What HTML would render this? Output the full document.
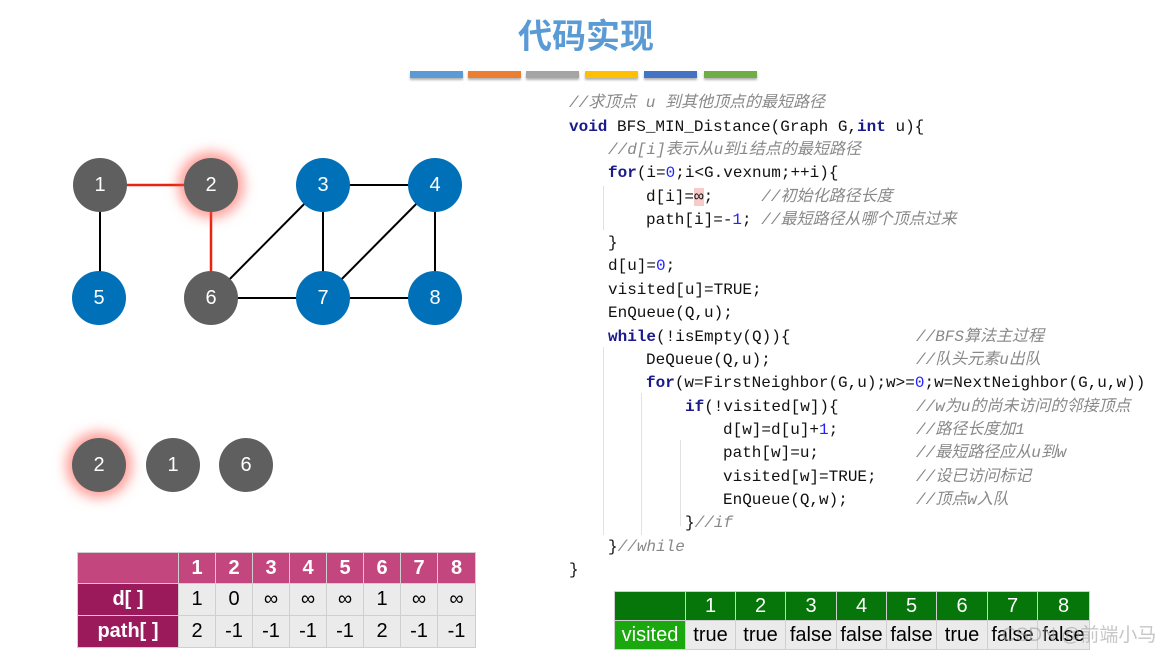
<!DOCTYPE html>
<html><head><meta charset="utf-8"><style>
body{margin:0;width:1172px;height:651px;background:#fff;position:relative;overflow:hidden;font-family:"Liberation Sans","Noto Sans CJK SC",sans-serif}
.t{position:absolute;left:0;width:1172px;top:9px;text-align:center;font-size:34px;font-weight:bold;color:#5b9bd5;font-family:"Noto Sans CJK SC",sans-serif}
.bar{position:absolute;top:71px;height:7px;width:53px;box-shadow:0 2px 2px rgba(0,0,0,.3)}
.n{position:absolute;width:54px;height:54px;border-radius:50%;color:#fff;font-size:20px;text-align:center;line-height:54px}
.g{background:#5f5f5f}.b{background:#0071b9}
.glow{box-shadow:0 0 12px 6px rgba(255,80,70,.55)}
.c{position:absolute;font-family:"Liberation Mono","DejaVu Sans Mono","Noto Sans CJK SC",monospace;font-size:16px;line-height:22px;white-space:pre;color:#111}
.cm{color:#888;font-style:italic}
.k{color:#1a1a8c;font-weight:bold}
.num{color:#2222ff}
.vl{position:absolute;width:1px;background:#e2e2e2}
table{position:absolute;border-collapse:collapse;font-size:20px;table-layout:fixed}
td{border:1px solid #cfcfcf;text-align:center;padding:0;overflow:hidden;white-space:nowrap}
</style></head><body>
<div class="t">代码实现</div>
<div class="bar" style="left:410px;background:#5b9bd5"></div>
<div class="bar" style="left:468px;background:#ed7d31"></div>
<div class="bar" style="left:526px;background:#a5a5a5"></div>
<div class="bar" style="left:585px;background:#ffc000"></div>
<div class="bar" style="left:644px;background:#4472c4"></div>
<div class="bar" style="left:704px;background:#70ad47"></div>

<svg style="position:absolute;left:0;top:0" width="1172" height="651">
<g stroke="#000" stroke-width="2">
<line x1="100" y1="185" x2="100" y2="298"/>
<line x1="323" y1="185" x2="435" y2="185"/>
<line x1="323" y1="185" x2="211" y2="298"/>
<line x1="323" y1="185" x2="323" y2="298"/>
<line x1="435" y1="185" x2="323" y2="298"/>
<line x1="435" y1="185" x2="435" y2="298"/>
<line x1="211" y1="298" x2="435" y2="298"/>
</g>
<g stroke="#e8230f" stroke-width="2.5">
<line x1="100" y1="185" x2="211" y2="185"/>
<line x1="211" y1="185" x2="211" y2="298"/>
</g>
</svg>
<div class="n g" style="left:73px;top:158px">1</div>
<div class="n g glow" style="left:184px;top:158px">2</div>
<div class="n b" style="left:296px;top:158px">3</div>
<div class="n b" style="left:408px;top:158px">4</div>
<div class="n b" style="left:72px;top:271px">5</div>
<div class="n g" style="left:184px;top:271px">6</div>
<div class="n b" style="left:296px;top:271px">7</div>
<div class="n b" style="left:408px;top:271px">8</div>

<div class="n g glow" style="left:72px;top:438px">2</div>
<div class="n g" style="left:146px;top:438px">1</div>
<div class="n g" style="left:219px;top:438px">6</div>

<div class="vl" style="left:603px;top:186px;height:44px"></div>
<div class="vl" style="left:603px;top:347px;height:188px"></div>
<div class="vl" style="left:641px;top:393px;height:142px"></div>
<div class="vl" style="left:680px;top:440px;height:86px"></div>

<div class="c cm" style="left:569px;top:92px">//求顶点 u 到其他顶点的最短路径</div>
<div class="c" style="left:569px;top:116px"><span class="k">void</span> BFS_MIN_Distance(Graph G,<span class="k">int</span> u){</div>
<div class="c cm" style="left:608px;top:139px">//d[i]表示从u到i结点的最短路径</div>
<div class="c" style="left:608px;top:162px"><span class="k">for</span>(i=<span class="num">0</span>;i&lt;G.vexnum;++i){</div>
<div class="c" style="left:646px;top:186px">d[i]=<span style="background:#f8caca">∞</span>;     <span class="cm">//初始化路径长度</span></div>
<div class="c" style="left:646px;top:209px">path[i]=-<span class="num">1</span>; <span class="cm">//最短路径从哪个顶点过来</span></div>
<div class="c" style="left:608px;top:232px">}</div>
<div class="c" style="left:608px;top:255px">d[u]=<span class="num">0</span>;</div>
<div class="c" style="left:608px;top:279px">visited[u]=TRUE;</div>
<div class="c" style="left:608px;top:302px">EnQueue(Q,u);</div>
<div class="c" style="left:608px;top:326px"><span class="k">while</span>(!isEmpty(Q)){</div>
<div class="c cm" style="left:916px;top:326px">//BFS算法主过程</div>
<div class="c" style="left:646px;top:349px">DeQueue(Q,u);</div>
<div class="c cm" style="left:916px;top:349px">//队头元素u出队</div>
<div class="c" style="left:646px;top:372px"><span class="k">for</span>(w=FirstNeighbor(G,u);w&gt;=<span class="num">0</span>;w=NextNeighbor(G,u,w))</div>
<div class="c" style="left:685px;top:396px"><span class="k">if</span>(!visited[w]){</div>
<div class="c cm" style="left:916px;top:396px">//w为u的尚未访问的邻接顶点</div>
<div class="c" style="left:723px;top:419px">d[w]=d[u]+<span class="num">1</span>;</div>
<div class="c cm" style="left:916px;top:419px">//路径长度加1</div>
<div class="c" style="left:723px;top:442px">path[w]=u;</div>
<div class="c cm" style="left:916px;top:442px">//最短路径应从u到w</div>
<div class="c" style="left:723px;top:466px">visited[w]=TRUE;</div>
<div class="c cm" style="left:916px;top:466px">//设已访问标记</div>
<div class="c" style="left:723px;top:489px">EnQueue(Q,w);</div>
<div class="c cm" style="left:916px;top:489px">//顶点w入队</div>
<div class="c" style="left:685px;top:512px">}<span class="cm">//if</span></div>
<div class="c" style="left:608px;top:536px">}<span class="cm">//while</span></div>
<div class="c" style="left:569px;top:559px">}</div>

<table style="left:77px;top:552px;width:398px;height:95px">
<colgroup><col style="width:101px"><col style="width:37px"><col style="width:37px"><col style="width:37px"><col style="width:37px"><col style="width:37px"><col style="width:37px"><col style="width:37px"><col style="width:38px"></colgroup>
<tr style="background:#c4467f;color:#fff;font-weight:bold;height:31px"><td></td><td>1</td><td>2</td><td>3</td><td>4</td><td>5</td><td>6</td><td>7</td><td>8</td></tr>
<tr style="background:#ebebeb;height:32px"><td style="background:#9b1a5b;color:#fff;font-weight:bold">d[ ]</td><td>1</td><td>0</td><td>∞</td><td>∞</td><td>∞</td><td>1</td><td>∞</td><td>∞</td></tr>
<tr style="background:#ebebeb;height:32px"><td style="background:#9b1a5b;color:#fff;font-weight:bold">path[ ]</td><td>2</td><td>-1</td><td>-1</td><td>-1</td><td>-1</td><td>2</td><td>-1</td><td>-1</td></tr>
</table>

<table style="left:614px;top:591px;width:475px;height:59px">
<colgroup><col style="width:71px"><col style="width:50px"><col style="width:50px"><col style="width:51px"><col style="width:50px"><col style="width:50px"><col style="width:51px"><col style="width:50px"><col style="width:52px"></colgroup>
<tr style="background:#07760a;color:#fff;height:29px"><td></td><td>1</td><td>2</td><td>3</td><td>4</td><td>5</td><td>6</td><td>7</td><td>8</td></tr>
<tr style="background:#ebebeb;height:29px"><td style="background:#1aa80e;color:#fff">visited</td><td>true</td><td>true</td><td>false</td><td>false</td><td>false</td><td>true</td><td>false</td><td>false</td></tr>
</table>
<div style="position:absolute;left:1002px;top:620px;font-size:19px;color:rgba(160,160,160,.6);font-family:'Liberation Sans','Noto Sans CJK SC',sans-serif">CSDN @前端小马</div>
</body></html>
